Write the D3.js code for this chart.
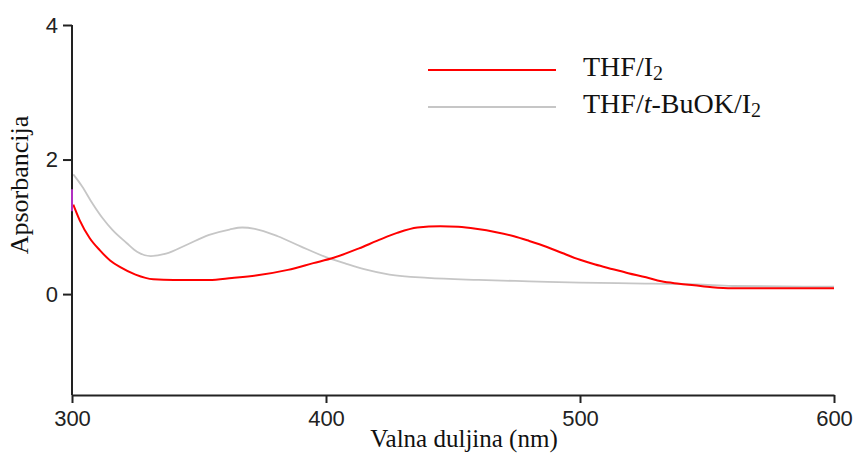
<!DOCTYPE html>
<html>
<head>
<meta charset="utf-8">
<script src="https://cdn.jsdelivr.net/npm/d3@7"></script>
<style>
  html, body { margin: 0; padding: 0; background: #fff; }
  svg { display: block; }
</style>
</head>
<body>
<svg id="chart" width="854" height="454"></svg>
<script>
// ---- data ----
const wavelengthTicks = [300, 400, 500, 600];
const absorbanceTicks = [0, 2, 4];
const xTitle = "Valna duljina (nm)";
const yTitle = "Apsorbancija";
const seriesNames = ["THF/I2", "THF/t-BuOK/I2"];

// THF/I2 (red)
const redWavelength = [300.5, 303, 307, 311, 315, 319, 325, 332, 340, 354, 363, 373, 385, 395, 403, 413, 420, 428, 436, 445, 452, 459, 467, 474, 480, 487, 493, 500, 506, 513, 519, 526, 532, 539, 545, 552, 560, 580, 600];
const redAbsorbance = [1.33, 1.10, 0.83, 0.65, 0.50, 0.40, 0.29, 0.22, 0.21, 0.21, 0.24, 0.28, 0.36, 0.46, 0.54, 0.68, 0.79, 0.91, 0.99, 1.01, 1.00, 0.97, 0.92, 0.86, 0.79, 0.70, 0.61, 0.51, 0.44, 0.37, 0.31, 0.25, 0.19, 0.155, 0.13, 0.10, 0.085, 0.085, 0.085];

// THF/t-BuOK/I2 (grey)
const greyWavelength = [300.5, 304, 308, 312, 316, 321.5, 325.6, 331, 337, 345, 354, 362, 367, 372, 381, 390, 400, 408, 415, 425, 440, 460, 480, 500, 520, 546, 560, 600];
const greyAbsorbance = [1.78, 1.60, 1.35, 1.13, 0.95, 0.76, 0.63, 0.565, 0.60, 0.73, 0.88, 0.96, 0.99, 0.97, 0.86, 0.71, 0.55, 0.45, 0.37, 0.29, 0.24, 0.21, 0.19, 0.17, 0.16, 0.145, 0.12, 0.11];

// small marks on the y axis at 300 nm
const axisMarkWavelength = [300, 300];
const axisMarkAbsorbance = [1.23, 1.56];

// ---- layout ----
const svg = d3.select("#chart");
const mLeft = 72, mRight = 834, mTop = 25, mBottom = 395;

const x = d3.scaleLinear().domain([300, 600]).range([mLeft, mRight]);
const y = d3.scaleLinear().domain([-1.5, 4]).range([mBottom, mTop]);

const axisColor = "#222";
const tickFont = "'Liberation Sans', Arial, sans-serif";
const serif = "'Liberation Serif', 'Times New Roman', serif";

// curves
const line = d3.line()
  .x(d => x(d[0]))
  .y(d => y(d[1]))
  .curve(d3.curveMonotoneX);

const grey = greyWavelength.map((w, i) => [w, greyAbsorbance[i]]);
const red = redWavelength.map((w, i) => [w, redAbsorbance[i]]);

svg.append("path").datum(grey)
  .attr("d", line).attr("fill", "none")
  .attr("stroke", "#c6c6c6").attr("stroke-width", 1.8);

svg.append("path").datum(red)
  .attr("d", line).attr("fill", "none")
  .attr("stroke", "#ff0000").attr("stroke-width", 2);

// y axis
const yAxis = svg.append("g")
  .attr("transform", `translate(${mLeft},0)`)
  .call(d3.axisLeft(y).tickValues(absorbanceTicks).tickSize(9).tickPadding(5).tickSizeOuter(0).tickFormat(d3.format("d")));
yAxis.select(".domain").attr("stroke", axisColor).attr("stroke-width", 2)
  .attr("d", `M0,${mTop}V${mBottom}`);
yAxis.selectAll(".tick line").attr("stroke", axisColor).attr("stroke-width", 2);
yAxis.selectAll(".tick text").attr("font-family", tickFont).attr("font-size", 22).attr("fill", "#222");

// magenta mark on axis
svg.append("line")
  .attr("x1", x(axisMarkWavelength[0])).attr("x2", x(axisMarkWavelength[1]))
  .attr("y1", y(axisMarkAbsorbance[0])).attr("y2", y(axisMarkAbsorbance[1]))
  .attr("stroke", "#b030c0").attr("stroke-width", 2);

// x axis
const xAxis = svg.append("g")
  .attr("transform", `translate(0,${mBottom})`)
  .call(d3.axisBottom(x).tickValues(wavelengthTicks).tickSize(8).tickPadding(7).tickSizeOuter(0).tickFormat(d3.format("d")));
xAxis.select(".domain").attr("stroke", axisColor).attr("stroke-width", 2);
xAxis.selectAll(".tick line").attr("stroke", axisColor).attr("stroke-width", 2);
xAxis.selectAll(".tick text").attr("font-family", tickFont).attr("font-size", 22).attr("fill", "#222");

// titles
svg.append("text")
  .attr("x", 464).attr("y", 447)
  .attr("text-anchor", "middle")
  .attr("font-family", serif).attr("font-size", 25).attr("fill", "#111")
  .text(xTitle);

svg.append("text")
  .attr("transform", "translate(28,185) rotate(-90)")
  .attr("text-anchor", "middle")
  .attr("font-family", serif).attr("font-size", 26).attr("fill", "#111")
  .text(yTitle);

// legend
const legendY = [70, 107];
const legendColors = ["#ff0000", "#c6c6c6"];
legendY.forEach((ly, i) => {
  svg.append("line")
    .attr("x1", 428).attr("x2", 556).attr("y1", ly).attr("y2", ly)
    .attr("stroke", legendColors[i]).attr("stroke-width", 2);
});

function legendText(yPos, parts) {
  const t = svg.append("text")
    .attr("x", 583).attr("y", yPos)
    .attr("font-family", serif).attr("font-size", 28).attr("fill", "#111");
  parts.forEach(p => {
    const ts = t.append("tspan").text(p.t);
    if (p.italic) ts.attr("font-style", "italic");
    if (p.sub) ts.attr("font-size", 20).attr("dy", 4);
  });
}
legendText(76, [{ t: "THF/I" }, { t: "2", sub: true }]);
legendText(113, [{ t: "THF/" }, { t: "t", italic: true }, { t: "-BuOK/I" }, { t: "2", sub: true }]);
</script>
</body>
</html>
